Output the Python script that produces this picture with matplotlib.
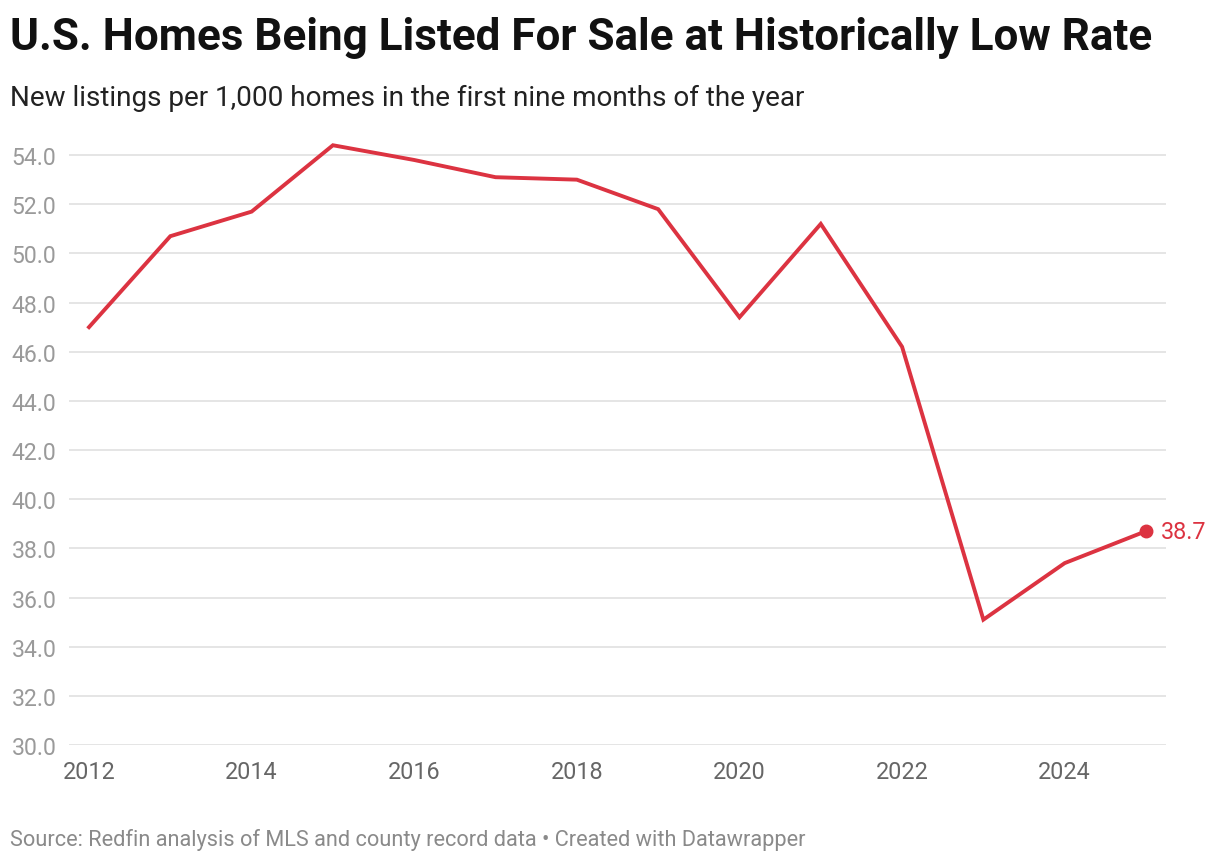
import matplotlib.pyplot as plt
import matplotlib.ticker as mticker

plt.rcParams["font.family"] = ["Roboto", "DejaVu Sans"]

# Data
years = [2012, 2013, 2014, 2015, 2016, 2017, 2018, 2019, 2020, 2021, 2022, 2023, 2024, 2025]
listings = [47.0, 50.7, 51.7, 54.4, 53.8, 53.1, 53.0, 51.8, 47.4, 51.2, 46.2, 35.1, 37.4, 38.7]
y_ticks = [30, 32, 34, 36, 38, 40, 42, 44, 46, 48, 50, 52, 54]
x_ticks = [2012, 2014, 2016, 2018, 2020, 2022, 2024]

RED = "#dc3341"
GRID = "#e3e3e3"

W, H = 1220, 862
fig = plt.figure(figsize=(W / 100, H / 100), dpi=100)
fig.patch.set_facecolor("white")

# axes placed in pixel coords: gridlines 69..1166 wide, 30.0 at y=746
left, right = 69, 1166
bottom_px = 746
top_px = 746 - 25 * 24.58
ax = fig.add_axes([left / W, 1 - bottom_px / H, (right - left) / W, (bottom_px - top_px) / H])

ax.plot(years, listings, color=RED, linewidth=2.8, solid_joinstyle="miter", zorder=3)
ax.plot(years[-1], listings[-1], "o", color=RED, markersize=9, zorder=4)
ax.annotate(f"{listings[-1]:.1f}", (years[-1], listings[-1]), xytext=(11, 0),
            textcoords="offset points", va="center", ha="left",
            fontsize=16.8, color=RED, annotation_clip=False)

ax.set_xlim(2011.754, 2025.246)
ax.set_ylim(30, 55)
ax.set_yticks(y_ticks)
ax.set_xticks(x_ticks)
ax.yaxis.set_major_formatter(mticker.FormatStrFormatter("%.1f"))
ax.grid(axis="y", color=GRID, linewidth=1.3)
ax.set_axisbelow(True)
for s in ax.spines.values():
    s.set_visible(False)
ax.tick_params(axis="y", length=0, pad=9, labelsize=16.6, labelcolor="#9a9a9a")
ax.tick_params(axis="x", length=0, pad=11, labelsize=16.8, labelcolor="#666666")

fig.text(10 / W, 1 - 50 / H, "U.S. Homes Being Listed For Sale at Historically Low Rate",
         fontsize=31.7, fontweight="bold", color="#111111", ha="left", va="baseline")
fig.text(10 / W, 1 - 106 / H, "New listings per 1,000 homes in the first nine months of the year",
         fontsize=20.1, color="#222222", ha="left", va="baseline")
fig.text(10 / W, 1 - 846 / H,
         "Source: Redfin analysis of MLS and county record data \u2022 Created with Datawrapper",
         fontsize=15.7, color="#8a8a8a", ha="left", va="baseline")

fig.savefig("out.png", dpi=100, facecolor=fig.get_facecolor())
